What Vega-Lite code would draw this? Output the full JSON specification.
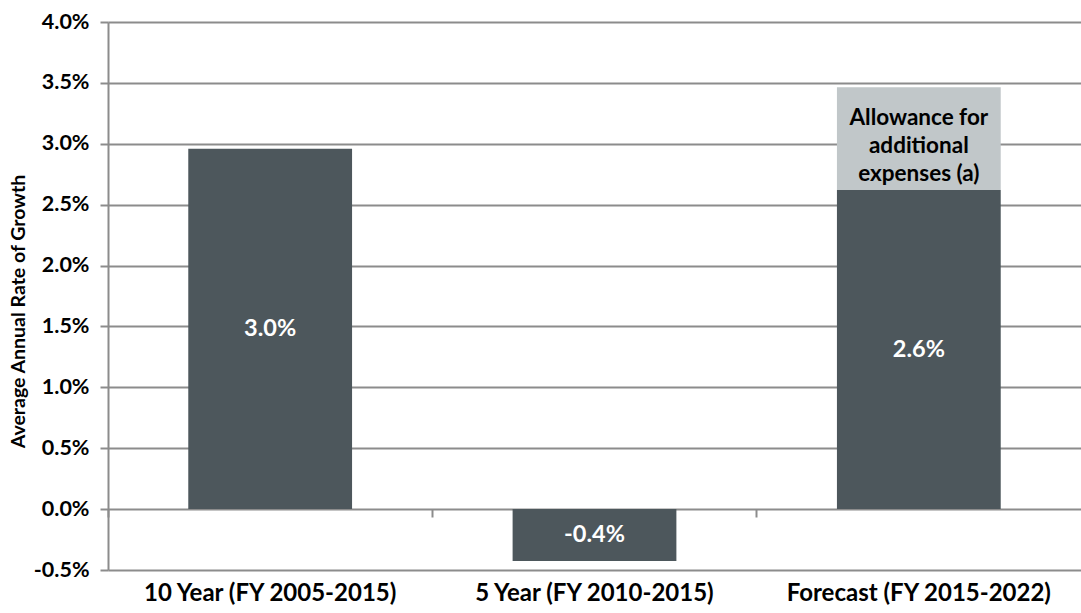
{
  "$schema": "https://vega.github.io/schema/vega-lite/v6.json",
  "autosize": {"type": "none"},
  "width": 973,
  "height": 548,
  "padding": {"left": 108, "top": 22, "right": 0, "bottom": 43},
  "background": "white",
  "config": {"view": {"stroke": null}, "font": "Lato"},
  "data": {
    "values": [
      {"cat": "10 Year (FY 2005-2015)", "seg": 1, "series": "Growth", "value": 0.0296, "label": "3.0%"},
      {"cat": "5 Year (FY 2010-2015)", "seg": 1, "series": "Growth", "value": -0.00427, "label": "-0.4%"},
      {"cat": "Forecast (FY 2015-2022)", "seg": 1, "series": "Growth", "value": 0.0262, "label": "2.6%"},
      {"cat": "Forecast (FY 2015-2022)", "seg": 2, "series": "Allowance", "value": 0.00845, "label": ["Allowance for", "additional", "expenses (a)"]}
    ]
  },
  "transform": [
    {"stack": "value", "groupby": ["cat"], "sort": [{"field": "seg"}], "as": ["v0", "v1"]},
    {"calculate": "(datum.v0 + datum.v1) / 2", "as": "mid"}
  ],
  "encoding": {
    "x": {
      "field": "cat", "type": "nominal", "sort": null,
      "scale": {"paddingInner": 0, "paddingOuter": 0}
    }
  },
  "layer": [
    {
      "mark": {"type": "bar", "width": {"band": 0.505}},
      "encoding": {
        "x": {
          "field": "cat", "type": "nominal", "sort": null,
          "axis": {
            "title": null, "labelAngle": 0, "domain": false, "ticks": false, "orient": "bottom",
            "labelFont": "Lato", "labelFontSize": 24, "labelFontWeight": "bold", "labelLimit": 0,
            "labelColor": "black", "labelPadding": 11
          }
        },
        "y": {
          "field": "v0", "type": "quantitative",
          "scale": {"domain": [-0.005, 0.04], "nice": false, "zero": false},
          "axis": {
            "title": "Average Annual Rate of Growth", "titleFontSize": 19.5, "titleFontWeight": "bold",
            "titleColor": "black", "titlePadding": 5, "titleFont": "Lato", "titleY": 289,
            "format": ".1%", "labelExpr": "replace(datum.label, '\u2212', '-')",
            "values": [-0.005, 0, 0.005, 0.01, 0.015, 0.02, 0.025, 0.03, 0.035, 0.04],
            "labelFont": "Lato", "labelFontSize": 21.5, "labelFontWeight": "bold", "labelColor": "black",
            "labelPadding": 11, "tickSize": 8, "tickColor": "#8c8c8c", "tickWidth": 2,
            "domainColor": "#8c8c8c", "domainWidth": 2,
            "grid": true, "gridColor": "#8c8c8c", "gridWidth": 2
          }
        },
        "y2": {"field": "v1"},
        "color": {
          "field": "series", "type": "nominal",
          "scale": {"domain": ["Growth", "Allowance"], "range": ["#4d575c", "#c1c7c9"]},
          "legend": null
        }
      }
    },
    {
      "transform": [{"filter": "datum.series === 'Growth'"}],
      "mark": {"type": "text", "font": "Lato", "fontSize": 23.5, "fontWeight": "bold", "baseline": "middle", "align": "center", "color": "white"},
      "encoding": {
        "x": {
          "field": "cat", "type": "nominal", "sort": null,
          "axis": {
            "title": null, "labels": false, "domain": false, "ticks": true, "orient": "bottom",
            "bandPosition": 0, "tickSize": 8, "tickColor": "#8c8c8c", "tickWidth": 2,
            "offset": -61
          }
        },
        "y": {"field": "mid", "type": "quantitative"},
        "text": {"field": "label"}
      }
    },
    {
      "transform": [{"filter": "datum.series === 'Allowance'"}],
      "mark": {"type": "text", "font": "Lato", "fontSize": 22.5, "fontWeight": "bold", "lineHeight": 28, "baseline": "middle", "align": "center", "color": "black", "dy": -21},
      "encoding": {
        "x": {"field": "cat", "type": "nominal", "sort": null, "axis": null},
        "y": {"field": "mid", "type": "quantitative"},
        "text": {"field": "label"}
      }
    }
  ],
  "resolve": {"axis": {"x": "independent"}}
}
